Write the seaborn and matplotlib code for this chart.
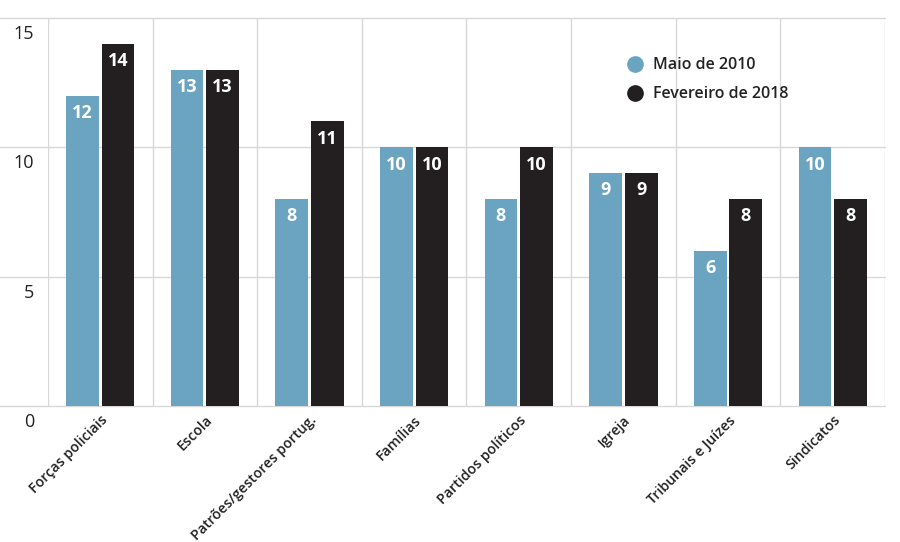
import matplotlib
matplotlib.use("Agg")
import matplotlib.pyplot as plt
import matplotlib.transforms as mtransforms
from matplotlib.lines import Line2D
import seaborn as sns
import pandas as pd

categories = ["Forças policiais", "Escola", "Patrões/gestores portug.", "Famílias",
              "Partidos políticos", "Igreja", "Tribunais e Juízes", "Sindicatos"]
series_names = ["Maio de 2010", "Fevereiro de 2018"]
maio_2010 = [12, 13, 8, 10, 8, 9, 6, 10]
fev_2018 = [14, 13, 11, 10, 10, 9, 8, 8]
y_ticks = [0, 5, 10, 15]

colors = ["#6aa4c0", "#231f20"]

df = pd.DataFrame({
    "cat": categories * 2,
    "serie": [series_names[0]] * len(categories) + [series_names[1]] * len(categories),
    "val": maio_2010 + fev_2018,
})

sns.set_theme(style="white")
plt.rcParams["font.family"] = ["Open Sans", "DejaVu Sans"]

fig = plt.figure(figsize=(9, 5.42), dpi=100)
ax = fig.add_axes([0.0533, 0.251, 0.93, 0.716])

sns.barplot(data=df, x="cat", y="val", hue="serie", palette=colors,
            width=0.68, gap=0.08, saturation=1, ax=ax, legend=False,
            errorbar=None, linewidth=0)

ax.set_xlim(-0.5, len(categories) - 0.5)
ax.set_ylim(0, 15)
ax.set_xlabel("")
ax.set_ylabel("")

for s in ax.spines.values():
    s.set_visible(False)

# vertical grid at category boundaries
ax.set_xticks([i - 0.5 for i in range(len(categories) + 1)], minor=True)
ax.grid(which="minor", axis="x", color="#d8d8d8", linewidth=1)
ax.grid(which="major", axis="x", visible=False)
ax.tick_params(axis="both", which="both", length=0)

# horizontal lines, extending to the left edge
for v in y_ticks:
    ax.axhline(v, xmin=-0.06, xmax=1, color="#d8d8d8", linewidth=1, clip_on=False, zorder=0)

ax.set_yticks(y_ticks)
ax.set_yticklabels([str(v) for v in y_ticks], fontsize=13, color="#222222")
ax.tick_params(axis="y", pad=10)
offset = mtransforms.ScaledTranslation(0, -5 / 72, fig.dpi_scale_trans)
for t in ax.get_yticklabels():
    t.set_va("top")
    t.set_transform(t.get_transform() + offset)

ax.set_xticks(range(len(categories)))
ax.set_xticklabels(categories, rotation=45, ha="right", rotation_mode="anchor",
                   fontsize=10.2, color="#222222", fontweight="semibold")
ax.tick_params(axis="x", pad=5)

for cont in ax.containers:
    labels = ax.bar_label(cont, labels=[f"{v:g}" for v in cont.datavalues],
                          padding=-6, color="white", fontsize=13, fontweight="bold")
    for t in labels:
        t.set_va("top")

handles = [Line2D([0], [0], marker="o", linestyle="", markersize=11,
                  markerfacecolor=c, markeredgecolor=c) for c in colors]
leg = ax.legend(handles, series_names, loc="upper left", bbox_to_anchor=(0.675, 0.935),
                frameon=False, fontsize=11.5, handletextpad=0.6, labelspacing=0.8,
                handlelength=1.0)
for t in leg.get_texts():
    t.set_color("#222222")
    t.set_fontweight("semibold")

fig.savefig("out.png", dpi=100)
